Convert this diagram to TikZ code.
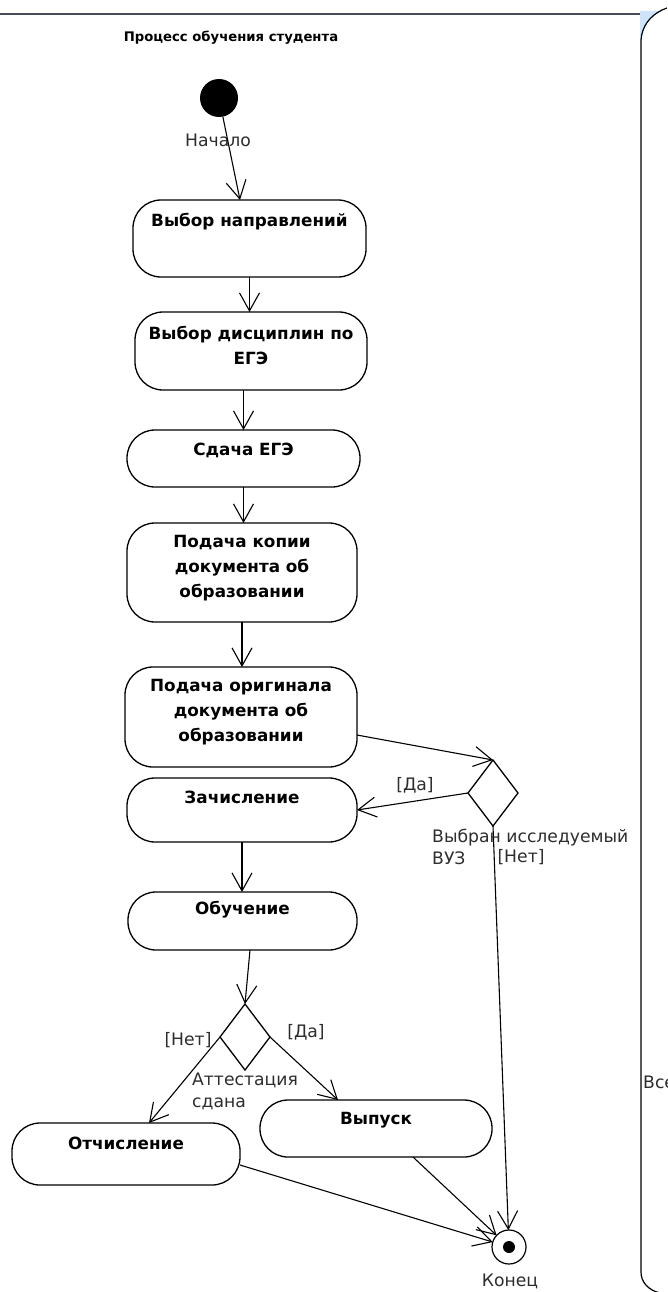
\documentclass[tikz,border=0pt]{standalone}
\usepackage{fontspec}
\setmainfont{DejaVu Sans}
\usetikzlibrary{arrows.meta,shapes.geometric,calc}
\definecolor{frameline}{RGB}{70,78,92}
\definecolor{cornerblue}{RGB}{205,228,250}
\definecolor{labelgray}{RGB}{45,45,45}
\begin{document}
\begin{tikzpicture}[x=1pt,y=-1pt,
  act/.style={draw=black, line width=1.3pt, rounded corners=28pt, inner sep=0pt, outer sep=0pt},
  btxt/.style={font=\fontsize{16.8}{25}\selectfont\bfseries, align=center, inner sep=0pt},
  ltxt/.style={font=\fontsize{17.2}{22}\selectfont, text=labelgray, inner sep=0pt, align=left},
  flow/.style={draw=black, line width=1.1pt, -{Straight Barb[length=18pt,width=20pt]}},
  dec/.style={draw=black, line width=1.3pt, diamond, inner sep=0pt, outer sep=0pt, minimum width=50pt, minimum height=66pt},
]
\useasboundingbox (0,0) rectangle (667,1292);
\fill[white] (0,0) rectangle (667,1292);

% frame
\draw[frameline, line width=2.5pt] (0,14) -- (640,14);
\fill[cornerblue] (640,11) -- (662,11) .. controls (650,16) and (642,26) .. (641,40) -- (640,40) -- cycle;
\draw[black, line width=1.2pt] (667,8) -- (662,10) .. controls (650,16) and (642,26) .. (641,40) -- (641,1272) .. controls (641,1282) and (648,1290) .. (660,1293);
\node[ltxt, anchor=west] (allbl) at (643,1082) {Все};

% title
\node[font=\fontsize{13.2}{16}\selectfont\bfseries, inner sep=0pt] (title) at (231,38) {Процесс обучения студента};

% start
\node[circle, fill=black, minimum size=38pt, inner sep=0pt, outer sep=0pt] (st) at (219,98) {};
\node[ltxt] (stl) at (218,140) {Начало};

% activities
\node[act, minimum width=233pt, minimum height=77pt] (b1) at (249.5,238.5) {};
\node[btxt] (t1) at (249.5,222) {Выбор направлений};
\node[act, minimum width=232pt, minimum height=78pt] (b2) at (251,351) {};
\node[btxt] (t2) at (251,345) {Выбор дисциплин по\\ЕГЭ};
\node[act, minimum width=233pt, minimum height=57pt] (b3) at (243.5,458.5) {};
\node[btxt] (t3) at (243.5,450) {Сдача ЕГЭ};
\node[act, minimum width=230pt, minimum height=99pt] (b4) at (242,572.5) {};
\node[btxt] (t4) at (242,568) {Подача копии\\документа об\\образовании};
\node[act, minimum width=232pt, minimum height=100pt] (b5) at (241,717) {};
\node[btxt] (t5) at (241,712) {Подача оригинала\\документа об\\образовании};
\node[act, minimum width=230pt, minimum height=64pt] (b6) at (242,810) {};
\node[btxt] (t6) at (242,797) {Зачисление};
\node[act, minimum width=229pt, minimum height=58pt] (b7) at (242.5,921) {};
\node[btxt] (t7) at (242.5,910) {Обучение};
\node[act, minimum width=228pt, minimum height=62pt] (b8) at (126,1154) {};
\node[btxt] (t8) at (126,1143) {Отчисление};
\node[act, minimum width=232pt, minimum height=57pt] (b9) at (376,1128.5) {};
\node[btxt] (t9) at (376,1120) {Выпуск};

% decisions
\node[dec] (d1) at (493,793) {};
\node[dec] (d2) at (245,1037) {};

% end
\node[circle, draw=black, line width=1.2pt, minimum size=34pt, inner sep=0pt, outer sep=0pt] (en) at (509,1247) {};
\node[circle, fill=black, minimum size=12pt, inner sep=0pt] (endot) at (509,1247) {};
\node[ltxt, anchor=north] (enl) at (510,1274) {Конец};

% helper coordinates
\coordinate (b1in) at (240,200);
\coordinate (b5out) at (357,735);
\coordinate (b7out) at (250,950);
\coordinate (b8in) at (149,1123);
\coordinate (b9in) at (338,1100);
\coordinate (b8out) at (240,1165);
\coordinate (b9out) at (413,1157);

% flows
\draw[flow] (st) -- (b1in);
\draw[flow] (b1.south) -- (b1.south |- b2.north);
\draw[flow] (b3.north |- b2.south) -- (b3.north);
\draw[flow] (b3.south) -- (b3.south |- b4.north);
\draw[flow] (b4.south) -- (b4.south |- b5.north);
\draw[flow] (b5out) -- (d1.north);
\draw[flow] (d1.west) -- (b6.east);
\draw[flow] (d1.south) -- (en);
\draw[flow] (b6.south) -- (b6.south |- b7.north);
\draw[flow] (b7out) -- (d2.north);
\draw[flow] (d2.west) -- (b8in);
\draw[flow] (d2.east) -- (b9in);
\draw[flow] (b8out) -- (en);
\draw[flow] (b9out) -- (en);

% guard labels
\node[ltxt] (g1) at (415,785) {[Да]};
\node[ltxt, anchor=north west] (g1n) at (432,829) {Выбран исследуемый\\ВУЗ};
\node[ltxt] (g2) at (521,857) {[Нет]};
\node[ltxt] (g3) at (188,1040) {[Нет]};
\node[ltxt] (g4) at (306,1032) {[Да]};
\node[ltxt, anchor=north west] (g3n) at (192,1073) {Аттестация\\сдана};
\end{tikzpicture}
\end{document}
